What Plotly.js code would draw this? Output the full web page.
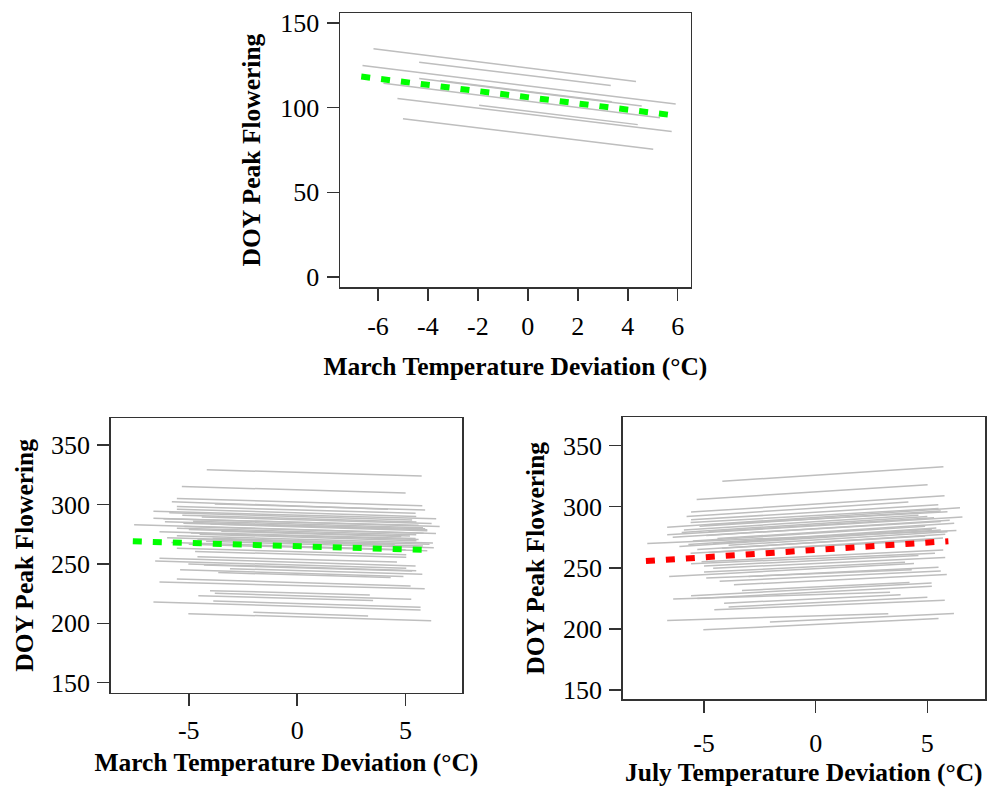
<!DOCTYPE html>
<html><head><meta charset="utf-8">
<script src="https://cdn.plot.ly/plotly-3.0.1.min.js"></script>
<style>body{margin:0;background:#fff}#chart{width:989px;height:787px}</style>
</head><body><div id="chart"></div>
<script>
// ---------- Top panel: March temperature deviation (spring species) ----------
const topX0 = [-6.18, -4.35, -6.62, -4.35, -5.78, -3.51, -5.22, -1.95, -5.00];
const topX1 = [ 4.33,  3.32,  5.92,  4.56,  5.29,  3.36,  5.76,  4.40,  5.02];
const topY0 = [134.9, 126.9, 124.9, 117.3, 114.4, 116.1, 105.5, 101.4, 93.5];
const topY1 = [115.5, 113.2, 102.2, 101.0,  94.1, 103.5,  85.9,  90.0, 75.5];
const topFitX = [-6.67, 5.92];
const topFitY = [118.4, 95.35];

// ---------- Bottom-left panel: March temperature deviation ----------
const blX0 = [-4.17,-5.32,-5.55,-5.78,-3.80,-5.55,-5.55,-6.63,-5.30,-6.63,-6.17,-4.80,-5.25,-4.00,-7.52,-5.55,-5.00,-3.50,-6.35,-4.50,-5.55,-6.00,-4.60,-4.20,-5.80,-5.00,-5.55,-4.71,-4.60,-6.35,-6.55,-5.02,-3.10,-3.64,-5.55,-6.35,-4.02,-3.80,-4.56,-6.63,-3.87,-5.02,-2.02,-5.90,-4.40,-6.10,-5.20,-4.90,-3.90,-5.40,-4.30];
const blX1 = [ 5.74, 5.00, 5.77, 4.19, 5.90, 5.46, 5.49, 6.41, 5.50, 6.57, 5.60, 5.80, 6.00, 6.00, 5.83, 5.49, 5.20, 4.80, 5.46, 5.50, 6.26, 4.50, 5.80, 6.30, 5.00, 6.00, 5.03, 5.03, 4.60, 5.46, 5.03, 5.49, 5.77, 4.31, 5.23, 5.88, 3.35, 5.26, 3.50, 5.69, 5.69, 6.18, 3.27, 5.30, 6.20, 5.90, 6.40, 5.60, 6.10, 4.90, 5.30];
const blY0 = [329.3,315.2,305.1,302.3,300.5,298.3,296.1,294.4,291.0,288.5,287.9,286.0,284.3,283.5,282.9,280.1,279.0,277.5,277.0,275.0,273.8,272.0,270.5,269.0,268.0,266.5,263.2,260.5,256.0,254.8,252.5,250.0,246.0,242.7,237.4,234.8,227.5,225.3,223.3,218.0,218.8,208.1,209.3,293.0,289.5,285.5,281.5,276.0,271.5,245.0,249.0];
const blY1 = [323.9,309.6,298.9,296.1,295.3,292.7,289.9,287.9,285.3,281.5,282.5,280.5,278.7,278.0,275.9,274.5,273.5,273.0,271.3,269.5,267.5,266.5,265.0,263.5,262.0,261.0,257.6,255.5,251.5,248.3,246.3,244.3,241.3,238.5,231.5,229.0,223.9,220.2,219.1,211.2,213.5,202.2,206.2,287.0,284.0,279.5,275.5,270.5,266.5,239.5,244.0];
const blFitX = [-7.58, 5.95];
const blFitY = [269.0, 261.7];

// ---------- Bottom-right panel: July temperature deviation ----------
const brX0 = [-4.18,-5.33,-5.58,-5.78,-5.58,-5.60,-6.65,-5.00,-5.90,-4.80,-6.65,-6.40,-4.40,-5.50,-7.54,-4.60,-6.10,-3.90,-5.30,-4.80,-5.60,-5.11,-5.58,-4.59,-5.00,-6.56,-3.00,-4.90,-3.66,-3.30,-5.58,-5.30,-6.38,-4.10,-3.90,-4.54,-6.65,-2.05,-5.03,-5.20,-6.00,-4.90,-5.70,-4.20,-5.00,-4.30];
const brX1 = [ 5.72, 5.01, 5.77, 4.15, 5.49, 5.50, 6.46, 5.90, 4.60, 5.30, 6.57, 5.60, 6.20, 4.90, 6.30, 5.20, 5.60, 5.90, 4.90, 5.70, 5.10, 5.71, 5.34, 5.80, 4.00, 4.40, 5.50, 4.30, 5.87, 4.20, 5.19, 5.20, 3.33, 3.80, 5.00, 5.78, 3.25, 6.19, 5.50, 5.60, 5.00, 6.00, 5.40, 5.80, 4.60, 5.60];
const brY0 = [320.8,306.0,295.6,292.0,289.3,287.0,283.3,285.0,281.0,279.5,277.0,275.0,274.0,272.0,270.0,270.0,267.5,268.5,265.0,262.5,262.0,255.0,253.3,249.7,246.5,243.0,243.0,241.6,236.1,231.5,227.1,225.0,224.4,221.0,218.0,215.6,206.9,205.6,199.3,284.0,279.0,276.5,269.0,266.0,251.5,239.0];
const brY1 = [332.7,318.0,308.9,303.8,301.6,298.5,299.1,296.0,293.0,291.0,291.7,288.0,286.5,284.0,280.5,281.5,281.0,279.5,276.0,274.5,272.5,264.5,262.0,258.5,254.5,253.5,250.5,248.5,244.5,238.0,237.5,235.0,230.1,228.0,226.0,223.5,212.4,212.6,208.5,296.5,292.0,289.0,282.5,277.5,260.0,247.5];
const brFitX = [-7.6, 5.94];
const brFitY = [255.5, 271.8];

// axis tick labels
const topXTicks = [-6, -4, -2, 0, 2, 4, 6];
const topYTicks = [0, 50, 100, 150];
const botXTicks = [-5, 0, 5];
const botYTicks = [150, 200, 250, 300, 350];

function segTrace(x0, x1, y0, y1, xa, ya) {
  const xs = [], ys = [];
  for (let i = 0; i < x0.length; i++) {
    xs.push(x0[i], x1[i], null);
    ys.push(y0[i], y1[i], null);
  }
  return {x: xs, y: ys, xaxis: xa, yaxis: ya, type: 'scatter', mode: 'lines',
    line: {color: '#BEBEBE', width: 1.5}, connectgaps: false, hoverinfo: 'skip', showlegend: false};
}
function fitTrace(x, y, xa, ya, color) {
  return {x: x, y: y, xaxis: xa, yaxis: ya, type: 'scatter', mode: 'lines',
    line: {color: color, width: 6, dash: '9px,11px'}, hoverinfo: 'skip', showlegend: false};
}

const data = [
  segTrace(topX0, topX1, topY0, topY1, 'x', 'y'),
  fitTrace(topFitX, topFitY, 'x', 'y', '#00FF00'),
  segTrace(blX0, blX1, blY0, blY1, 'x2', 'y2'),
  fitTrace(blFitX, blFitY, 'x2', 'y2', '#00FF00'),
  segTrace(brX0, brX1, brY0, brY1, 'x3', 'y3'),
  fitTrace(brFitX, brFitY, 'x3', 'y3', '#FF0000')
];

const W = 989, H = 787;
const serif = 'Liberation Serif, Times New Roman, serif';
function ax(domain, range, ticks, anchor, titleText, standoff, labelGap) {
  return {
    domain: domain, range: range, anchor: anchor,
    tickmode: 'array', tickvals: ticks, ticktext: ticks.map(String),
    ticks: 'outside', ticklen: 12, tickwidth: 1.5, tickcolor: '#333',
    ticklabelstandoff: labelGap,
    showline: true, mirror: true, linecolor: '#333', linewidth: 1.5,
    showgrid: false, zeroline: false, fixedrange: true,
    tickfont: {family: serif, size: 26, color: '#000'},
    title: {text: '<b>' + titleText + '</b>', font: {family: serif, size: 25.5, color: '#000'}, standoff: standoff}
  };
}
const layout = {
  width: W, height: H,
  margin: {l: 0, r: 0, t: 0, b: 0},
  paper_bgcolor: '#fff', plot_bgcolor: '#fff',
  showlegend: false,
  xaxis:  ax([340/W, 690.7/W], [-7.52, 6.52], topXTicks, 'y', 'March Temperature Deviation (°C)', 17, 3),
  yaxis:  ax([1-287/H, 1-13/H], [-6, 156], topYTicks, 'x', 'DOY Peak Flowering', 12, 2),
  xaxis2: ax([110.7/W, 462/W], [-8.6, 7.6], botXTicks, 'y2', 'March Temperature Deviation (°C)', 8, 2),
  yaxis2: ax([1-692.7/H, 1-418/H], [141.6, 372.8], botYTicks, 'x2', 'DOY Peak Flowering', 10, 2),
  xaxis3: ax([622.7/W, 985/W], [-8.64, 7.58], botXTicks, 'y3', 'July Temperature Deviation (°C)', 6, 8),
  yaxis3: ax([1-699.3/H, 1-417.3/H], [142.4, 373.2], botYTicks, 'x3', 'DOY Peak Flowering', 11, 2)
};
Plotly.newPlot('chart', data, layout, {displayModeBar: false, staticPlot: true});
</script></body></html>
